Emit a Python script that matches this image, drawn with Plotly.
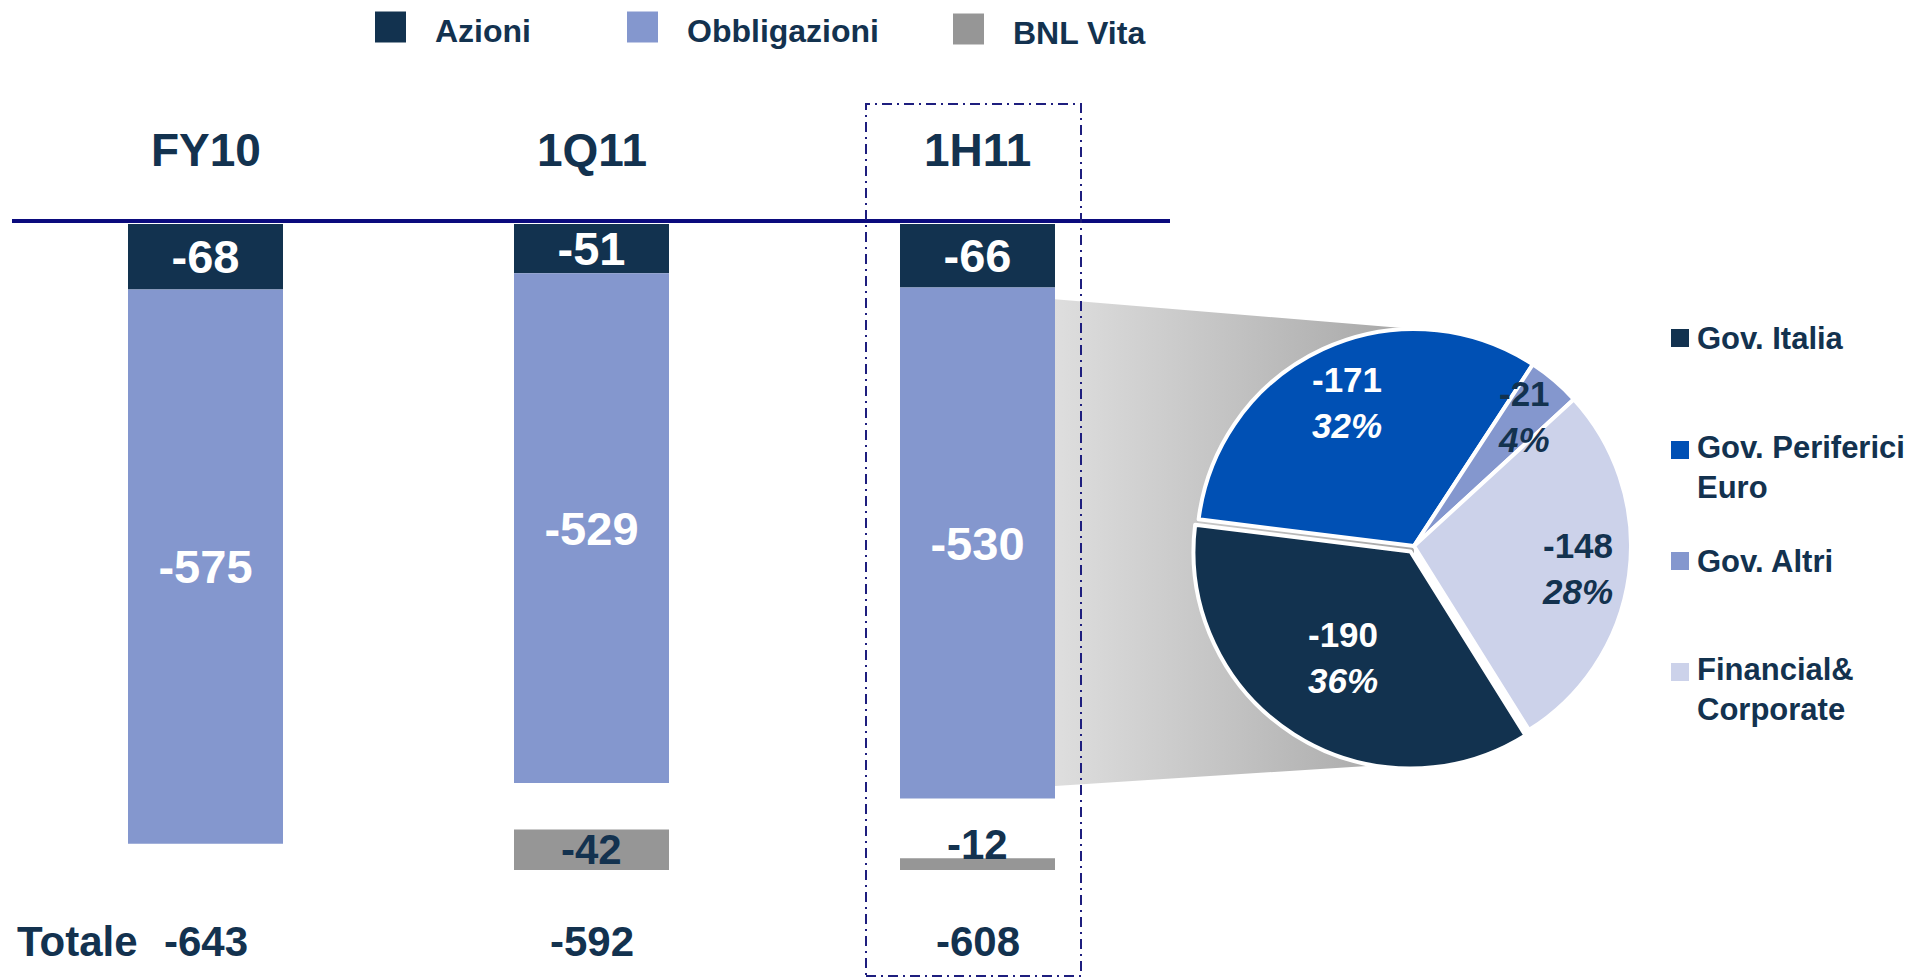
import math
import plotly.graph_objects as go

# ---------------------------------------------------------------- data
periods = ["FY10", "1Q11", "1H11"]
azioni = [-68, -51, -66]
obbligazioni = [-575, -529, -530]
bnl_vita = [None, -42, -12]
totale = [-643, -592, -608]

bond_mix_labels = ["Gov. Italia", "Gov. Periferici<br>Euro", "Gov. Altri", "Financial&<br>Corporate"]
bond_mix_values = [-190, -171, -21, -148]

# ---------------------------------------------------------------- style
W, H = 1915, 978
FONT = "Liberation Sans, Arial, Helvetica, sans-serif"
NAVY = "#13324F"
C_AZIONI = "#12324F"
C_OBBLIG = "#8497CE"
C_BNL = "#969696"
PIE_COLORS = ["#12324F", "#0050B4", "#8497CE", "#CCD2EA"]
PIE_TEXT = ["white", "white", NAVY, NAVY]
RULE = "#0B0B7D"

ZERO_PX = 224        # pixel row of the value 0
PX_PER_UNIT = 0.964  # pixels per unit on the value axis
X0_PX = 205.5        # pixel column of the first bar centre
STEP_PX = 386        # distance between bar centres
BAR_PX = 155         # bar width in pixels
BNL_FLOOR = -670     # common bottom of the BNL Vita bars

PIE_CX, PIE_CY, PIE_R = 1414, 546, 217
PIE_ROT = 148
PIE_PULL = [0.03, 0, 0, 0]
LABEL_R = [0.58, 0.73, 0.78, 0.76]   # label distance from the pie centre, per slice


def xd(px):
    return (px - X0_PX) / STEP_PX


def yd(py):
    return (ZERO_PX - py) / PX_PER_UNIT


def xp(px):
    return px / W


def yp(py):
    return 1 - py / H


def bold(size, color):
    return dict(family=FONT, size=size, color=color, weight="bold")


xs = list(range(len(periods)))
bw = BAR_PX / STEP_PX
fig = go.Figure()

# ---------------------------------------------------------------- connector from the bond bar to the pie
k = len(periods) - 1
left_x = xs[k] + bw / 2
fig.add_trace(go.Scatter(
    x=[left_x, xd(PIE_CX), xd(PIE_CX), left_x],
    y=[azioni[k] - 12, yd(PIE_CY - PIE_R), yd(PIE_CY + PIE_R), azioni[k] + obbligazioni[k] + 13],
    mode="none", fill="toself",
    fillgradient=dict(type="horizontal", colorscale=[[0, "#DEDEDE"], [1, "#A6A6A6"]]),
    hoverinfo="skip", showlegend=False,
))

# ---------------------------------------------------------------- bars
bar_font = bold(47, "white")
fig.add_trace(go.Bar(
    x=xs, y=azioni, base=[0] * len(xs), width=bw, name="Azioni",
    marker=dict(color=C_AZIONI, line_width=0),
    text=[str(v) for v in azioni], textposition="inside", insidetextanchor="middle",
    constraintext="none", textangle=0, textfont=bar_font, hoverinfo="skip",
))
fig.add_trace(go.Bar(
    x=xs, y=obbligazioni, base=azioni, width=bw, name="Obbligazioni",
    marker=dict(color=C_OBBLIG, line_width=0),
    text=[str(v) for v in obbligazioni], textposition="inside", insidetextanchor="middle",
    constraintext="none", textangle=0, textfont=bar_font, hoverinfo="skip",
))
bnl_x = [i for i, v in enumerate(bnl_vita) if v is not None]
bnl_v = [bnl_vita[i] for i in bnl_x]
fig.add_trace(go.Bar(
    x=bnl_x, y=[-v for v in bnl_v], base=[BNL_FLOOR] * len(bnl_x), width=bw, name="BNL Vita",
    marker=dict(color=C_BNL, line_width=0), hoverinfo="skip",
))

annotations = []
for i, v in zip(bnl_x, bnl_v):
    if abs(v) * PX_PER_UNIT > 30:
        annotations.append(dict(x=i, y=BNL_FLOOR - v / 2, text=str(v), xref="x", yref="y",
                                showarrow=False, xanchor="center", yanchor="middle",
                                font=bold(42, NAVY)))
    else:
        annotations.append(dict(x=i, y=BNL_FLOOR, text=str(v), xref="x", yref="y",
                                showarrow=False, xanchor="center", yanchor="bottom",
                                font=bold(42, NAVY)))

# period headers and totals
for i, p in enumerate(periods):
    annotations.append(dict(x=i, y=yd(150), text=p, xref="x", yref="y", showarrow=False,
                            xanchor="center", yanchor="middle", font=bold(46, NAVY)))
    annotations.append(dict(x=i, y=yd(941), text=str(totale[i]), xref="x", yref="y",
                            showarrow=False, xanchor="center", yanchor="middle",
                            font=bold(42, NAVY)))
annotations.append(dict(x=xp(15), y=yp(941), text="Totale", xref="paper", yref="paper",
                        showarrow=False, xanchor="left", yanchor="middle", font=bold(42, NAVY)))

# ---------------------------------------------------------------- pie of the bond breakdown
half = PIE_R * (1 + max(PIE_PULL))
fig.add_trace(go.Pie(
    values=[abs(v) for v in bond_mix_values], labels=bond_mix_labels,
    sort=False, direction="clockwise", rotation=PIE_ROT, pull=PIE_PULL,
    marker=dict(colors=PIE_COLORS, line=dict(color="white", width=4)),
    textinfo="none", hoverinfo="skip", showlegend=False,
    domain=dict(x=[xp(PIE_CX - half), xp(PIE_CX + half)],
                y=[yp(PIE_CY + half), yp(PIE_CY - half)]),
))

tot = sum(abs(v) for v in bond_mix_values)
cum = 0
for i, v in enumerate(bond_mix_values):
    a = abs(v)
    mid = math.radians(PIE_ROT + (cum + a / 2) / tot * 360)
    cum += a
    rr = PIE_R * (LABEL_R[i] + PIE_PULL[i])
    px = PIE_CX + rr * math.sin(mid)
    py = PIE_CY - rr * math.cos(mid)
    pct = round(a / tot * 100)
    annotations.append(dict(x=xp(px), y=yp(py), xref="paper", yref="paper", showarrow=False,
                            text=f"{v}<br><i>{pct}%</i>", align="center",
                            xanchor="center", yanchor="middle",
                            font=bold(35, PIE_TEXT[i])))

# ---------------------------------------------------------------- legends
shapes = []
TOP_LEG_X = [375, 627, 953]
TOP_LEG_Y = [27, 27, 29]
for name, color, lx, ly in zip(["Azioni", "Obbligazioni", "BNL Vita"],
                               [C_AZIONI, C_OBBLIG, C_BNL], TOP_LEG_X, TOP_LEG_Y):
    shapes.append(dict(type="rect", xref="paper", yref="paper",
                       x0=xp(lx), x1=xp(lx + 31), y0=yp(ly + 15.5), y1=yp(ly - 15.5),
                       fillcolor=color, line_width=0))
    annotations.append(dict(x=xp(lx + 58), y=yp(ly + 4), text=name, xref="paper", yref="paper",
                            showarrow=False, xanchor="left", yanchor="middle", font=bold(32, NAVY)))

PIE_LEG_SQ = [338, 450, 561, 672]
PIE_LEG_TXT = [338, 467, 561, 689]
for name, color, sy, ty in zip(bond_mix_labels, PIE_COLORS, PIE_LEG_SQ, PIE_LEG_TXT):
    shapes.append(dict(type="rect", xref="paper", yref="paper",
                       x0=xp(1671), x1=xp(1689), y0=yp(sy + 9), y1=yp(sy - 9),
                       fillcolor=color, line_width=0))
    annotations.append(dict(x=xp(1695), y=yp(ty), text=name, xref="paper", yref="paper",
                            showarrow=False, xanchor="left", yanchor="middle", align="left",
                            font=bold(31, NAVY)))

# baseline rule and highlight frame around the last period
shapes.append(dict(type="line", xref="paper", yref="paper", x0=xp(12), x1=xp(1170),
                   y0=yp(221), y1=yp(221), line=dict(color=RULE, width=4), layer="above"))
shapes.append(dict(type="rect", xref="paper", yref="paper", x0=xp(866), x1=xp(1081),
                   y0=yp(976), y1=yp(104), fillcolor="rgba(0,0,0,0)",
                   line=dict(color="#1E1E7E", width=2, dash="10px,5px,2px,5px"), layer="above"))

fig.update_layout(
    width=W, height=H, margin=dict(l=0, r=0, t=0, b=0),
    paper_bgcolor="white", plot_bgcolor="white",
    barmode="overlay", showlegend=False, hovermode=False,
    xaxis=dict(range=[xd(0), xd(W)], visible=False, fixedrange=True),
    yaxis=dict(range=[yd(H), yd(0)], visible=False, fixedrange=True),
    shapes=shapes, annotations=annotations,
    font=dict(family=FONT),
)

fig.write_html("out.html")
